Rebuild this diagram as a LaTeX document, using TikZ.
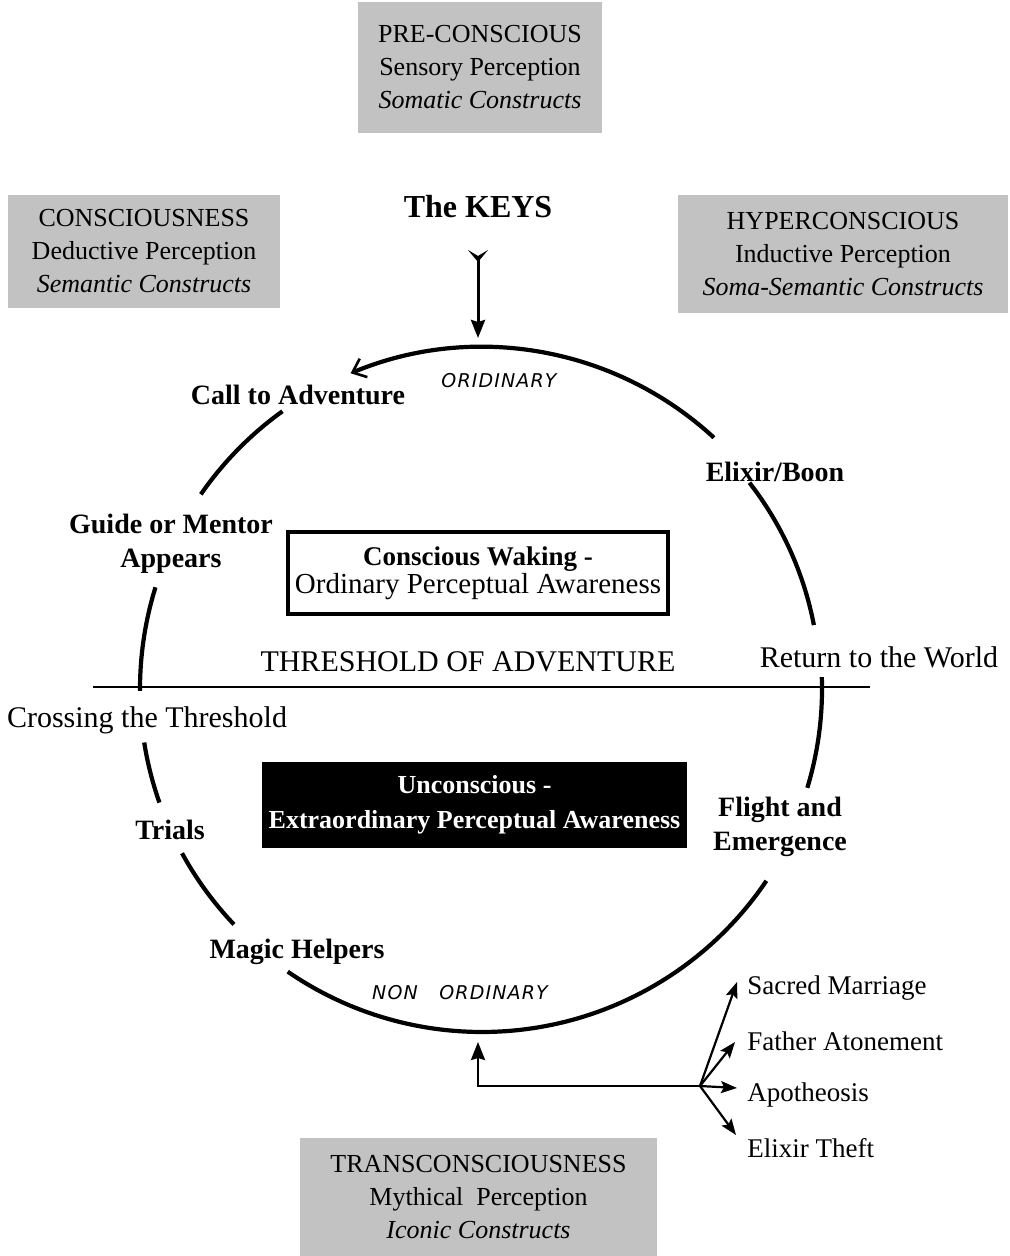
\documentclass[tikz,border=0pt]{standalone}
\usepackage{fontspec}
\setmainfont{Liberation Serif}
\newfontfamily\handfont{DejaVu Sans}
\usetikzlibrary{arrows.meta}
\begin{document}
\begin{tikzpicture}[x=0.5pt,y=-0.5pt,
  arcline/.style={line width=2.1pt},
  graybox/.style={fill=black!24, inner sep=0pt, align=center, font=\fontsize{13}{16.5}\selectfont},
  lbl/.style={font=\fontsize{14}{17}\selectfont\bfseries, align=center, inner sep=1pt},
  rlbl/.style={font=\fontsize{15}{18}\selectfont, inner sep=1pt},
  fanlbl/.style={font=\fontsize{13.5}{16}\selectfont, anchor=west, inner sep=0pt},
  fanarrow/.style={line width=1.1pt, -{Stealth[length=8pt,width=6pt,inset=1.5pt]}},
  hand/.style={font=\handfont\fontsize{9.5}{11}\selectfont\itshape\addfontfeatures{LetterSpace=6}, inner sep=0pt}]
\useasboundingbox (0,0) rectangle (1010,1256);
\fill[white] (0,0) rectangle (1010,1256);

% gray level boxes
\node[graybox, minimum width=122pt, minimum height=65.5pt] (pre) at (480,67.5)
  {PRE-CONSCIOUS\\Sensory Perception\\\textit{Somatic Constructs}};
\node[graybox, minimum width=136pt, minimum height=56.5pt] (cons) at (144,251.5)
  {CONSCIOUSNESS\\Deductive Perception\\\textit{Semantic Constructs}};
\node[graybox, minimum width=165pt, minimum height=59pt] (hyper) at (843,254)
  {HYPERCONSCIOUS\\Inductive Perception\\\textit{Soma-Semantic Constructs}};
\node[graybox, minimum width=178.5pt, minimum height=59pt] (trans) at (478.5,1197)
  {TRANSCONSCIOUSNESS\\Mythical\ \ Perception\\\textit{Iconic Constructs}};

% keys
\node[font=\fontsize{16}{19}\selectfont\bfseries, inner sep=1pt] (keys) at (478,207) {The KEYS};
\coordinate (keystail) at (478,250);
\coordinate (keystip) at (478,338);
\draw[line width=1.5pt, {Stealth[reversed,length=6pt,width=10pt,inset=3pt]}-{Stealth[length=9pt,width=7pt,inset=1pt]}] (keystail) -- (keystip);

% centre boxes
\node[draw, line width=1.6pt, minimum width=190pt, minimum height=41pt, align=center, inner sep=0pt] (waking) at (478,573)
  {{\fontsize{13.5}{16.5}\selectfont\bfseries Conscious Waking -}\\{\fontsize{14.5}{16.5}\selectfont Ordinary Perceptual Awareness}};
\node[fill=black, text=white, minimum width=212.5pt, minimum height=43pt, align=center, inner sep=0pt,
  font=\fontsize{13}{17.5}\selectfont\bfseries] (uncon) at (474.5,805)
  {Unconscious -\\Extraordinary Perceptual Awareness};

% threshold
\coordinate (thL) at (93,687);
\coordinate (thR) at (870,687);
\draw[line width=1.3pt] (thL) -- (thR);
\node[rlbl] (thresh) at (468,662) {THRESHOLD OF ADVENTURE};

% stage labels
\node[lbl] (call) at (298,395) {Call to Adventure};
\node[lbl] (guide) at (171,544) {Guide or Mentor\\Appears};
\node[rlbl] (cross) at (147,720) {Crossing the Threshold};
\node[lbl] (trials) at (170,830) {Trials};
\node[lbl] (magic) at (297,952) {Magic Helpers};
\node[lbl] (flight) at (780,827) {Flight and\\Emergence};
\node[rlbl] (return) at (879,657) {Return to the World};
\node[lbl] (elixir) at (775,472) {Elixir/Boon};

\node[hand] (ord) at (499,381) {ORIDINARY};
\node[hand] (nonord) at (460,993) {NON\ \ \ ORDINARY};

% circle arcs
\coordinate (c) at (482,689);
\draw[arcline, -{Straight Barb[length=6pt,width=10pt,line width=1.3pt]}] ([shift={(-47.3:342)}]c) arc[start angle=-47.3, end angle=-112.6, radius=342];
\draw[arcline] ([shift={(-125.7:342)}]c) arc[start angle=-125.7, end angle=-145.3, radius=342];
\draw[arcline] ([shift={(-162.7:342)}]c) arc[start angle=-162.7, end angle=-180.3, radius=342];
\draw[arcline] ([shift={(171:342)}]c) arc[start angle=171, end angle=160.6, radius=342];
\draw[arcline] ([shift={(151.3:342)}]c) arc[start angle=151.3, end angle=136.5, radius=342];
\draw[arcline] ([shift={(124.5:343)}]c) arc[start angle=124.5, end angle=34, radius=343];
\draw[arcline] ([shift={(16.9:340)}]c) arc[start angle=16.9, end angle=-2, radius=340];
\draw[arcline] ([shift={(-10.9:338)}]c) arc[start angle=-10.9, end angle=-37.8, radius=336];

% fan of ordeals
\coordinate (j) at (700,1086);
\coordinate (jc) at (478,1086);
\coordinate (up) at (478,1042);
\draw[line width=1.3pt, -{Stealth[length=9pt,width=7pt,inset=1pt]}] (j) -- (jc) -- (up);
\node[fanlbl] (sm) at (747,988) {Sacred Marriage};
\node[fanlbl] (fa) at (747,1041) {Father Atonement};
\node[fanlbl] (ap) at (747,1095) {Apotheosis};
\node[fanlbl] (et) at (747,1148) {Elixir Theft};
\draw[fanarrow] (j) -- (737,982);
\draw[fanarrow] (j) -- (735,1042);
\draw[fanarrow] (j) -- (737,1088);
\draw[fanarrow] (j) -- (736,1135);
\end{tikzpicture}
\end{document}
